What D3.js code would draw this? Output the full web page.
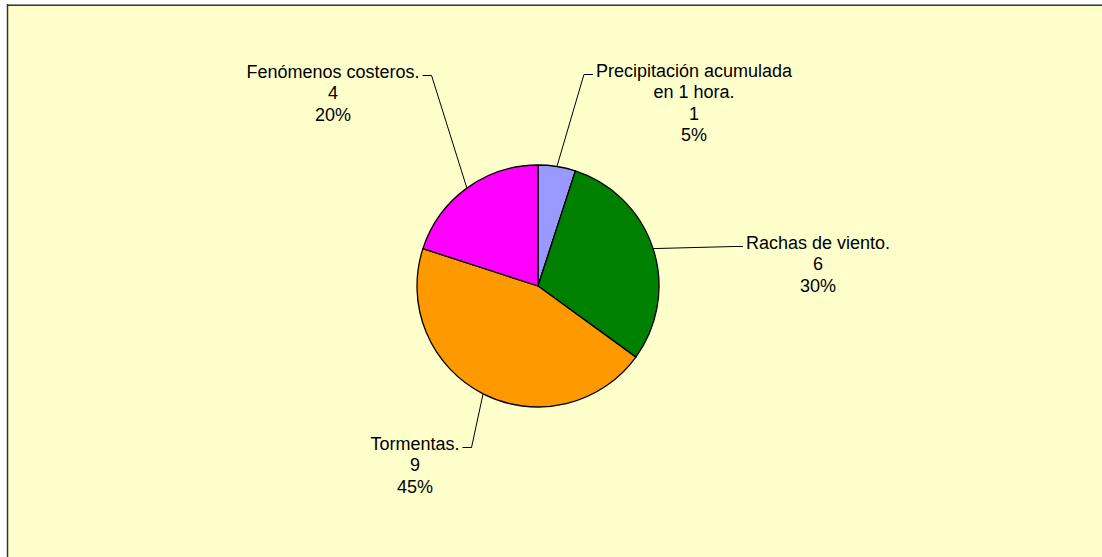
<!DOCTYPE html>
<html>
<head>
<meta charset="utf-8">
<script src="https://cdn.jsdelivr.net/npm/d3@7/dist/d3.min.js"></script>
<style>
  html, body { margin: 0; padding: 0; background: #ffffff; }
  svg { display: block; }
  text { font-family: "Liberation Sans", Arial, sans-serif; font-size: 18px; fill: #000; }
</style>
</head>
<body>
<svg id="chart" width="1102" height="557"></svg>
<script>
// Warning categories and their counts (clockwise from 12 o'clock)
const categories = [
  ["Precipitación acumulada", "en 1 hora."],
  ["Rachas de viento."],
  ["Tormentas."],
  ["Fenómenos costeros."]
];
const values = [1, 6, 9, 4];
const colors = ["#9999FF", "#008000", "#FF9900", "#FF00FF"];

const W = 1102, H = 557;
const cx = 538, cy = 286, R = 121;

// Label block placement relative to the pie centre: centre x and first baseline
const labelPlacement = [
  { dx: 156,  dy: -209.5, side: "right" },
  { dx: 280,  dy: -37.5,  side: "right" },
  { dx: -123, dy: 163.5,  side: "left" },
  { dx: -205, dy: -208.5, side: "left" }
];
const lineH = 21.6;

const svg = d3.select("#chart");

// Chart area background and frame
svg.append("rect").attr("x", 7).attr("y", 5).attr("width", W).attr("height", H)
  .attr("fill", "#FFFFCC");
svg.append("line").attr("x1", 7).attr("x2", W).attr("y1", 4.5).attr("y2", 4.5)
  .attr("stroke", "#8a8a8a").attr("stroke-width", 1);
svg.append("line").attr("x1", 7).attr("x2", W).attr("y1", 5.5).attr("y2", 5.5)
  .attr("stroke", "#3a3a3a").attr("stroke-width", 1);
svg.append("line").attr("x1", 7.5).attr("x2", 7.5).attr("y1", 4).attr("y2", H)
  .attr("stroke", "#333333").attr("stroke-width", 1.5);

const total = d3.sum(values);
const pie = d3.pie().value(d => d).sort(null);
const arcs = pie(values);
const arc = d3.arc().innerRadius(0).outerRadius(R);

const g = svg.append("g").attr("transform", `translate(${cx},${cy})`);

g.selectAll("path.slice").data(arcs).enter().append("path")
  .attr("class", "slice")
  .attr("d", arc)
  .attr("fill", (d, i) => colors[i])
  .attr("stroke", "#000")
  .attr("stroke-width", 1.3)
  .attr("stroke-linejoin", "round");

// Data labels: category, value, percentage
arcs.forEach((a, i) => {
  const p = labelPlacement[i];
  const lines = categories[i].concat([String(values[i]), d3.format(".0%")(values[i] / total)]);
  const t = g.append("text").attr("text-anchor", "middle");
  lines.forEach((s, k) => {
    t.append("tspan").attr("x", p.dx).attr("y", p.dy + k * lineH).text(s);
  });
  // width of the first line sets where the leader meets the label
  const first = t.select("tspan").node().getComputedTextLength();
  const mid = (a.startAngle + a.endAngle) / 2;
  const ex = R * Math.sin(mid), ey = -R * Math.cos(mid);
  const ly = p.dy - 2;
  const edge = p.side === "right" ? p.dx - first / 2 - 3 : p.dx + first / 2 + 3;
  const elbow = p.side === "right" ? edge - 9 : edge + 9;
  g.append("polyline")
    .attr("points", [[ex, ey], [elbow, ly], [edge, ly]].map(q => q.join(",")).join(" "))
    .attr("fill", "none")
    .attr("stroke", "#000")
    .attr("stroke-width", 1);
});
</script>
</body>
</html>
